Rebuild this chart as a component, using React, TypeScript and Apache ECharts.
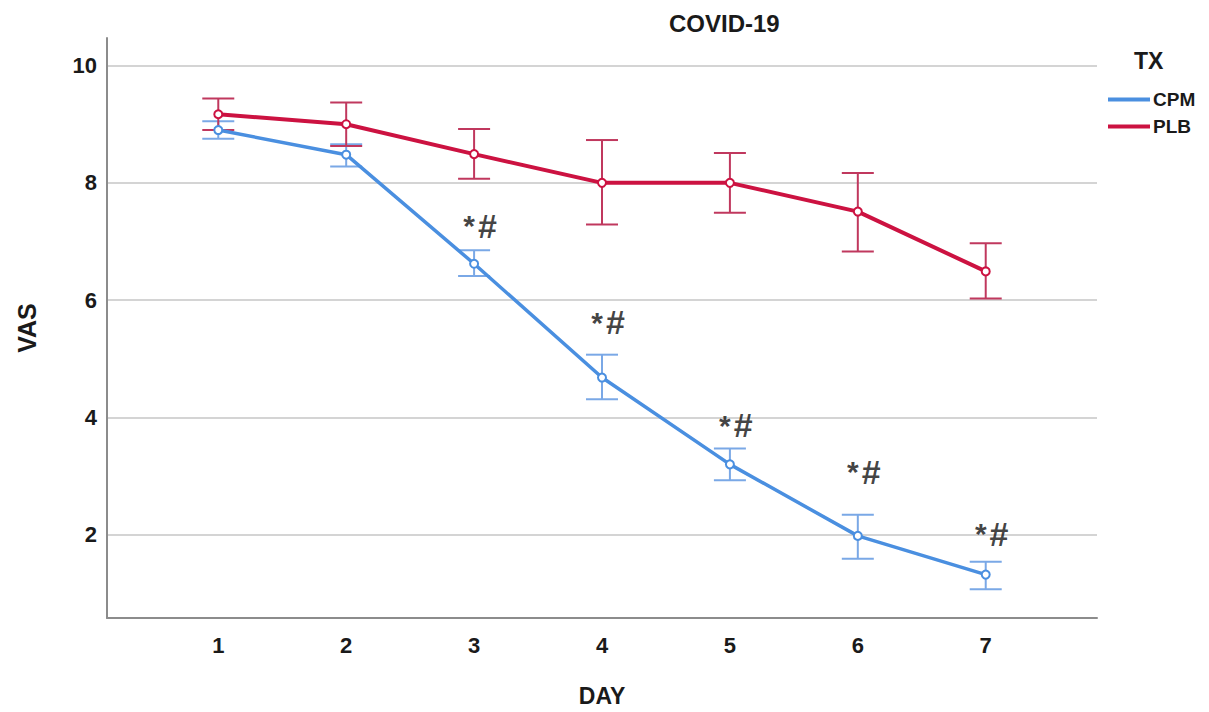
import React, { useEffect, useRef } from "react";
import * as echarts from "echarts";

const days = [1, 2, 3, 4, 5, 6, 7];
const cpmMean = [8.9, 8.48, 6.62, 4.68, 3.2, 1.98, 1.32];
const cpmLow = [8.75, 8.28, 6.41, 4.31, 2.93, 1.59, 1.07];
const cpmHigh = [9.05, 8.66, 6.85, 5.07, 3.47, 2.34, 1.54];
const plbMean = [9.17, 9.0, 8.49, 8.0, 8.0, 7.51, 6.49];
const plbLow = [8.9, 8.63, 8.07, 7.29, 7.49, 6.83, 6.03];
const plbHigh = [9.44, 9.37, 8.92, 8.73, 8.51, 8.17, 6.97];
const yTicks = [2, 4, 6, 8, 10];
const annotDays = [3, 4, 5, 6, 7];
const annotY = [7.27, 5.62, 3.87, 3.07, 2.02];

const CPM_COLOR = "#4a8fe0";
const PLB_COLOR = "#cc1241";
const CPM_ERR = "#7aa8e6";
const PLB_ERR = "#c0385e";
const FONT = "Liberation Sans";

function errorSeries(name: string, low: number[], high: number[], color: string) {
  return {
    type: "custom",
    name: name + "_err",
    z: 3,
    data: days.map((d, i) => [d, low[i], high[i]]),
    encode: { x: 0, y: [1, 2] },
    silent: true,
    renderItem: (_params: any, api: any) => {
      const x = api.value(0);
      const top = api.coord([x, api.value(2)]);
      const bot = api.coord([x, api.value(1)]);
      const hw = 16;
      const style = { stroke: color, lineWidth: 2 };
      return {
        type: "group",
        children: [
          { type: "line", shape: { x1: top[0], y1: top[1], x2: bot[0], y2: bot[1] }, style },
          { type: "line", shape: { x1: top[0] - hw, y1: top[1], x2: top[0] + hw, y2: top[1] }, style },
          { type: "line", shape: { x1: bot[0] - hw, y1: bot[1], x2: bot[0] + hw, y2: bot[1] }, style },
        ],
      };
    },
  };
}

export default function App() {
  const ref = useRef<HTMLDivElement>(null);
  useEffect(() => {
    if (!ref.current) return;
    const chart = echarts.init(ref.current, null, { renderer: "svg" });
    chart.setOption({
      animation: false,
      backgroundColor: "#ffffff",
      title: {
        text: "COVID-19",
        left: 664,
        top: 6,
        textStyle: { fontSize: 24, fontWeight: "bold", color: "#1a1a1a", fontFamily: FONT },
      },
      graphic: [
        {
          type: "text",
          left: 1134,
          top: 49,
          style: { text: "TX", fontSize: 23, fontWeight: "bold", fill: "#1a1a1a", fontFamily: FONT },
        },
      ],
      legend: {
        orient: "vertical",
        left: 1103,
        top: 85,
        itemWidth: 42,
        itemHeight: 4,
        itemGap: 8,
        textStyle: { fontSize: 19, fontWeight: "bold", color: "#1a1a1a", fontFamily: FONT, padding: [0, 0, 0, -2] },
        data: [
          { name: "CPM", icon: "rect", itemStyle: { color: CPM_COLOR } },
          { name: "PLB", icon: "rect", itemStyle: { color: PLB_COLOR } },
        ],
      },
      grid: { left: 107, top: 38, right: 112, bottom: 90 },
      xAxis: {
        type: "value",
        min: 0.13,
        max: 7.87,
        name: "DAY",
        nameLocation: "middle",
        nameGap: 66,
        nameTextStyle: { fontSize: 23, fontWeight: "bold", color: "#1a1a1a", fontFamily: FONT },
        axisLine: { show: true, lineStyle: { color: "#8c8c8c", width: 2 } },
        axisTick: { show: false, customValues: days },
        axisLabel: {
          customValues: days,
          fontSize: 22,
          fontWeight: "bold",
          color: "#1a1a1a",
          fontFamily: FONT,
          margin: 16,
        },
        splitLine: { show: false },
      },
      yAxis: {
        type: "value",
        min: 0.58,
        max: 10.47,
        name: "VAS",
        nameLocation: "middle",
        nameGap: 68,
        nameRotate: 90,
        nameTextStyle: { fontSize: 25, fontWeight: "bold", color: "#1a1a1a", fontFamily: FONT },
        axisLine: { show: true, lineStyle: { color: "#8c8c8c", width: 2 } },
        axisTick: { show: false, customValues: yTicks },
        axisLabel: {
          customValues: yTicks,
          fontSize: 22,
          fontWeight: "bold",
          color: "#1a1a1a",
          fontFamily: FONT,
          margin: 10,
        },
        splitLine: { show: true, lineStyle: { color: "#d4d4d4", width: 2 } },
      },
      series: [
        errorSeries("CPM", cpmLow, cpmHigh, CPM_ERR),
        errorSeries("PLB", plbLow, plbHigh, PLB_ERR),
        {
          type: "line",
          name: "CPM",
          z: 4,
          data: days.map((d, i) => [d, cpmMean[i]]),
          symbol: "emptyCircle",
          symbolSize: 8,
          lineStyle: { color: CPM_COLOR, width: 3.5 },
          itemStyle: { color: CPM_COLOR, borderWidth: 1.5 },
        },
        {
          type: "line",
          name: "PLB",
          z: 4,
          data: days.map((d, i) => [d, plbMean[i]]),
          symbol: "emptyCircle",
          symbolSize: 8,
          lineStyle: { color: PLB_COLOR, width: 4 },
          itemStyle: { color: PLB_COLOR, borderWidth: 1.5 },
        },
        {
          type: "scatter",
          name: "annot",
          z: 5,
          silent: true,
          symbolSize: 0,
          data: annotDays.map((d, i) => [d, annotY[i]]),
          label: {
            show: true,
            position: "inside",
            offset: [6, 0],
            formatter: "{s|*}{h|#}",
            rich: {
              s: { fontSize: 30, fontWeight: "bold", color: "#111", fontFamily: FONT, padding: [0, 3, 0, 0] },
              h: { fontSize: 34, fontWeight: "bold", color: "#111", fontFamily: FONT },
            },
          },
        },
      ],
    });
    return () => chart.dispose();
  }, []);
  return (
    <div
      ref={ref}
      style={{ position: "absolute", left: 0, top: 0, width: 1209, height: 712 }}
    />
  );
}
